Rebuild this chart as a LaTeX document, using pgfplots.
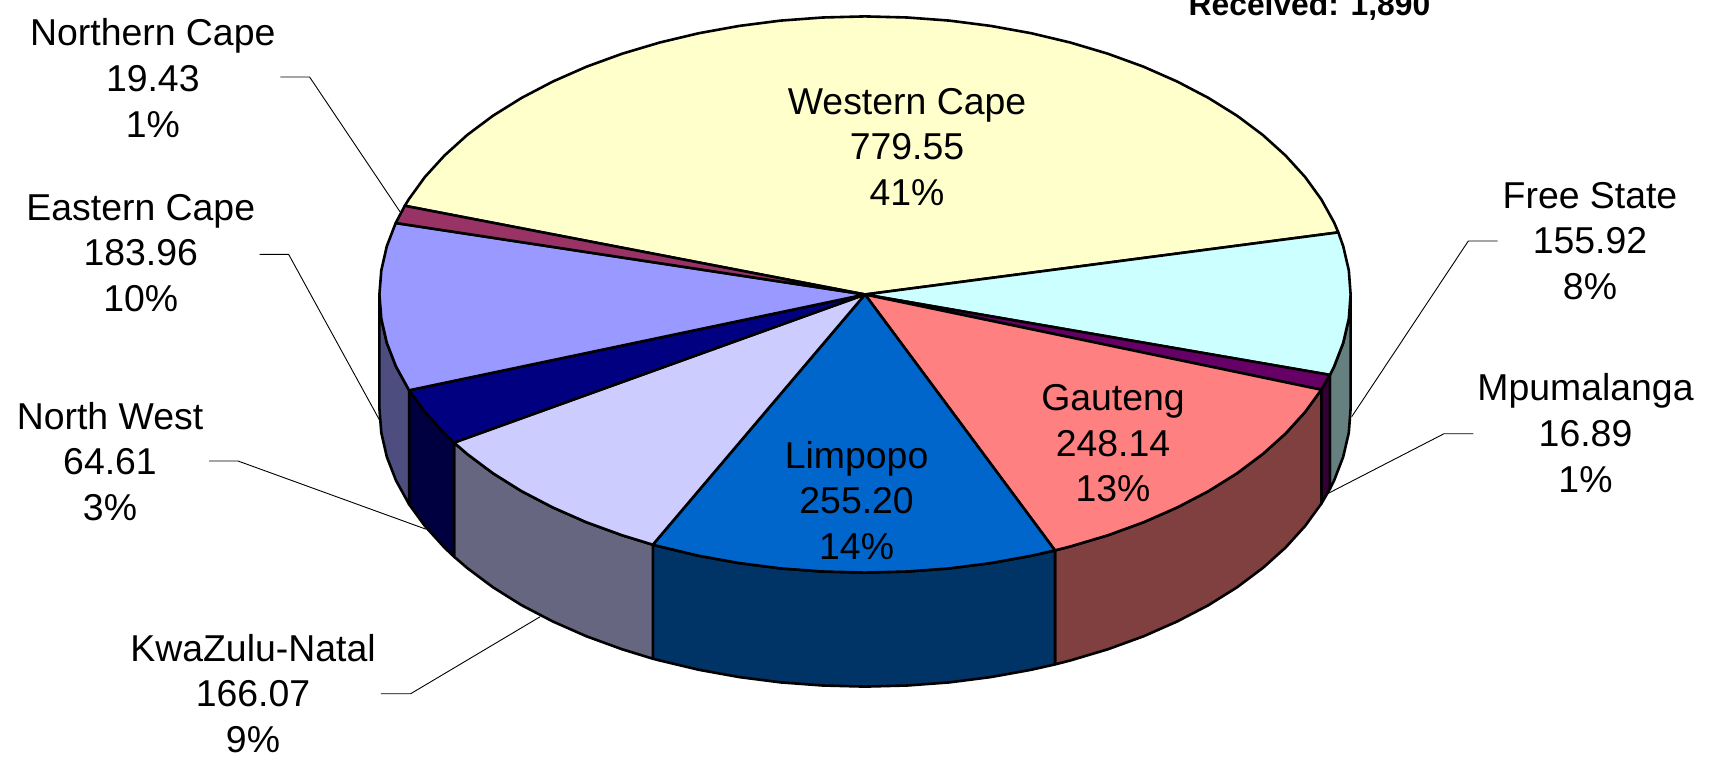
\documentclass[border=0pt]{standalone}
\usepackage{pgfplots}
\pgfplotsset{compat=1.18}
\usepackage{fontspec}
\setmainfont{Liberation Sans}
\definecolor{cWC}{HTML}{FFFFCC}
\definecolor{cFS}{HTML}{CCFFFF}
\definecolor{cMP}{HTML}{660066}
\definecolor{cGA}{HTML}{FF8080}
\definecolor{cLI}{HTML}{0066CC}
\definecolor{cKZ}{HTML}{CCCCFF}
\definecolor{cNW}{HTML}{000080}
\definecolor{cEC}{HTML}{9999FF}
\definecolor{cNC}{HTML}{993366}
\definecolor{dFS}{HTML}{668080}
\definecolor{dMP}{HTML}{330033}
\definecolor{dGA}{HTML}{804040}
\definecolor{dLI}{HTML}{003366}
\definecolor{dKZ}{HTML}{666680}
\definecolor{dNW}{HTML}{000040}
\definecolor{dEC}{HTML}{4D4D80}
\pgfplotsset{
  slice/.style={draw=black,line width=2.6pt,line join=round,mark=none,fill=#1},
  leader/.style={draw=black,line width=0.9pt,mark=none,line join=miter},
}
\newcommand{\lab}[3]{\node[overlay,align=center,font=\fontsize{37.4}{45.6}\selectfont,inner sep=0pt] at (axis cs:#1,#2) {#3};}
\begin{document}
\begin{tikzpicture}
\path[use as bounding box] (0,0) rectangle (1711pt,761pt);
\begin{axis}[
  at={(0,0)},anchor=south west,
  hide axis,scale only axis,width=1711pt,height=761pt,
  xmin=0,xmax=1711,ymin=0,ymax=761,y dir=reverse,clip=true,
]
% side walls
\addplot[slice=dFS] coordinates {(1350.6,294.5)(1348.8,318.7)(1343.2,342.8)(1334.1,366.5)(1329.9,374.9)(1329.9,488.9)(1334.1,480.5)(1343.2,456.8)(1348.8,432.7)(1350.6,408.5)} --cycle;
\addplot[slice=dMP] coordinates {(1329.9,374.9)(1321.3,389.7)(1321.3,503.7)(1329.9,488.9)} --cycle;
\addplot[slice=dGA] coordinates {(1321.3,389.7)(1305.1,412.0)(1285.5,433.6)(1262.8,454.0)(1237.0,473.3)(1208.4,491.2)(1177.1,507.5)(1143.5,522.3)(1107.8,535.3)(1070.2,546.5)(1055,550.4)(1055,664.4)(1070.2,660.5)(1107.8,649.3)(1143.5,636.3)(1177.1,621.5)(1208.4,605.2)(1237.0,587.3)(1262.8,568.0)(1285.5,547.6)(1305.1,526.0)(1321.3,503.7)} --cycle;
\addplot[slice=dLI] coordinates {(1055,550.4)(1031.1,555.8)(990.7,563.1)(949.3,568.4)(907.3,571.5)(865,572.6)(822.7,571.5)(780.7,568.4)(739.3,563.1)(698.9,555.8)(659.8,546.5)(652.8,544.7)(652.8,658.7)(659.8,660.5)(698.9,669.8)(739.3,677.1)(780.7,682.4)(822.7,685.5)(865,686.6)(907.3,685.5)(949.3,682.4)(990.7,677.1)(1031.1,669.8)(1055,664.4)} --cycle;
\addplot[slice=dKZ] coordinates {(652.8,544.7)(622.2,535.3)(586.5,522.3)(552.9,507.5)(521.6,491.2)(493.0,473.3)(467.2,454.0)(454,442.6)(454,556.6)(467.2,568.0)(493.0,587.3)(521.6,605.2)(552.9,621.5)(586.5,636.3)(622.2,649.3)(652.8,658.7)} --cycle;
\addplot[slice=dNW] coordinates {(454,442.6)(444.5,433.6)(424.9,412.0)(409.1,390.3)(409.1,504.3)(424.9,526.0)(444.5,547.6)(454,556.6)} --cycle;
\addplot[slice=dEC] coordinates {(409.1,390.3)(396.0,366.5)(386.8,342.8)(381.3,318.7)(379.4,294.5)(379.4,408.5)(381.3,432.7)(386.8,456.8)(396.0,480.5)(409.1,504.3)} --cycle;
% top faces
\addplot[slice=cWC] coordinates {(865,294.5)(404.8,205.8)(408.7,199.4)(424.9,177.0)(444.5,155.5)(467.2,135.0)(493.0,115.7)(521.6,97.9)(552.9,81.5)(586.5,66.7)(622.2,53.7)(659.8,42.5)(698.9,33.2)(739.3,25.9)(780.7,20.6)(822.7,17.5)(865,16.4)(907.3,17.5)(949.3,20.6)(990.7,25.9)(1031.1,33.2)(1070.2,42.5)(1107.8,53.7)(1143.5,66.7)(1177.1,81.5)(1208.4,97.9)(1237.0,115.7)(1262.8,135.0)(1285.5,155.5)(1305.1,177.0)(1321.3,199.4)(1334.1,222.5)(1338.3,232.4)} --cycle;
\addplot[slice=cFS] coordinates {(865,294.5)(1338.3,232.4)(1343.2,246.2)(1348.8,270.3)(1350.6,294.5)(1348.8,318.7)(1343.2,342.8)(1334.1,366.5)(1329.9,374.9)} --cycle;
\addplot[slice=cMP] coordinates {(865,294.5)(1329.9,374.9)(1321.3,389.7)} --cycle;
\addplot[slice=cGA] coordinates {(865,294.5)(1321.3,389.7)(1305.1,412.0)(1285.5,433.6)(1262.8,454.0)(1237.0,473.3)(1208.4,491.2)(1177.1,507.5)(1143.5,522.3)(1107.8,535.3)(1070.2,546.5)(1055,550.4)} --cycle;
\addplot[slice=cLI] coordinates {(865,294.5)(1055,550.4)(1031.1,555.8)(990.7,563.1)(949.3,568.4)(907.3,571.5)(865,572.6)(822.7,571.5)(780.7,568.4)(739.3,563.1)(698.9,555.8)(659.8,546.5)(652.8,544.7)} --cycle;
\addplot[slice=cKZ] coordinates {(865,294.5)(652.8,544.7)(622.2,535.3)(586.5,522.3)(552.9,507.5)(521.6,491.2)(493.0,473.3)(467.2,454.0)(454,442.6)} --cycle;
\addplot[slice=cNW] coordinates {(865,294.5)(454,442.6)(444.5,433.6)(424.9,412.0)(409.1,390.3)} --cycle;
\addplot[slice=cEC] coordinates {(865,294.5)(409.1,390.3)(396.0,366.5)(386.8,342.8)(381.3,318.7)(379.4,294.5)(381.3,270.3)(386.8,246.2)(395.7,223.0)} --cycle;
\addplot[slice=cNC] coordinates {(865,294.5)(395.7,223.0)(404.8,205.8)} --cycle;
% leader lines
\addplot[leader] coordinates {(1497.5,241)(1468.3,241)(1351.7,416.7)};
\addplot[leader] coordinates {(1473.3,433.7)(1444,433.7)(1328.3,493.3)};
\addplot[leader] coordinates {(280.4,77)(309.6,77)(400,211.7)};
\addplot[leader] coordinates {(259.6,254.3)(288.6,254.3)(379.5,420)};
\addplot[leader] coordinates {(209,461)(238,461)(426.3,529.3)};
\addplot[leader] coordinates {(380.8,693.7)(410.7,693.7)(540.2,616.7)};
% labels
\lab{907}{147}{Western Cape\\779.55\\41\%}
\lab{1590}{241}{Free State\\155.92\\8\%}
\lab{1585.5}{433}{Mpumalanga\\16.89\\1\%}
\lab{1113}{443.5}{Gauteng\\248.14\\13\%}
\lab{856.6}{500.5}{Limpopo\\255.20\\14\%}
\lab{253}{693.5}{KwaZulu-Natal\\166.07\\9\%}
\lab{110}{461.6}{North West\\64.61\\3\%}
\lab{140.8}{253}{Eastern Cape\\183.96\\10\%}
\lab{152.8}{78}{Northern Cape\\19.43\\1\%}
\node[overlay,anchor=base,inner sep=0pt,font=\fontsize{31.8}{38}\selectfont\bfseries] at (axis cs:1309.5,15) {Received: 1,890};
\end{axis}
\end{tikzpicture}
\end{document}
